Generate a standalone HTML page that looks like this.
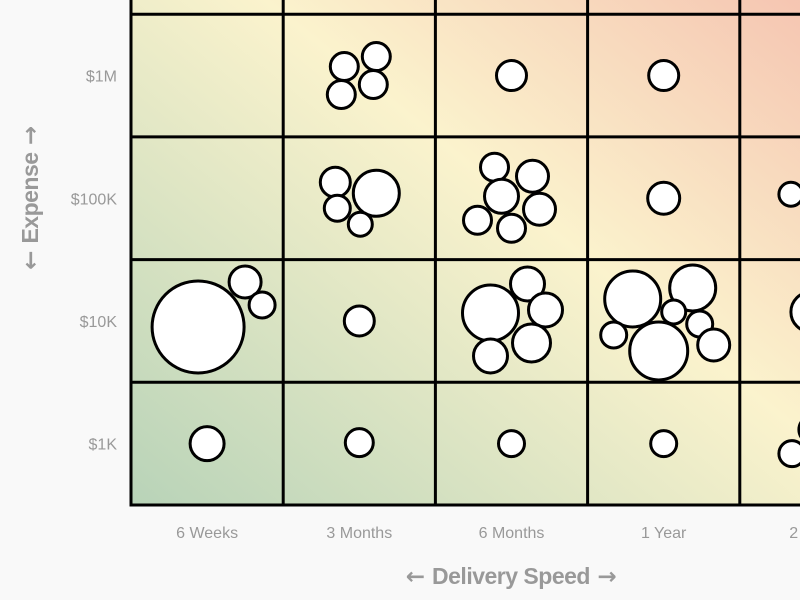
<!DOCTYPE html>
<html><head><meta charset="utf-8"><style>
html,body{margin:0;padding:0;background:#f9f9f9;}
svg{display:block;font-family:"Liberation Sans",sans-serif;}
.arr{font-family:"DejaVu Sans",sans-serif;font-weight:bold;}
</style></head><body>
<svg id="chart" width="800" height="600">
<defs>
<linearGradient id="bg" x1="0" y1="1" x2="1" y2="0">
<stop offset="0" stop-color="#b8d3b8"/>
<stop offset="0.5" stop-color="#fbf3cd"/>
<stop offset="1" stop-color="#f3b2a6"/>
</linearGradient>
</defs>
<g id="plot"></g>
</svg>
<script>
const xCategories = ["6 Weeks","3 Months","6 Months","1 Year","2 Years"];
const yCategories = ["$1K","$10K","$100K","$1M","$10M"];
// bubbles: column index, row index, offset within cell (px), radius
const bubbleCol = [1,1,1,1,2,3, 1,1,1,1,2,2,2,2,2,2,3,4, 0,0,0,1,2,2,2,2,2,3,3,3,3,3,3,3,4, 0,1,2,3,4,4];
const bubbleRow = [3,3,3,3,3,3, 2,2,2,2,2,2,2,2,2,2,2,2, 1,1,1,1,1,1,1,1,1,1,1,1,1,1,1,1,1, 0,0,0,0,0,0];
const bubbleDx = [-15,17,-18,14,0,0, -24,17,-22,1,-17,21,-10,28,-34,0,0,-25, -9,38,55,0,-21,16,34,20,-21,-31,29,10,-50,-5,36,50,-5, 0,0,0,0,-24,-3];
const bubbleDy = [-9,-19,19,9,0,0, -16,-5,10,26,-31,-22,-2,11,22,30,0,-4, 6,-39,-16,0,-8,-37,-11,22,35,-22,-33,-9,14,30,3,24,-9, 0,-1,0,0,10,-14];
const bubbleR = [14,14,14,14,15,15, 15,23,13,12,14,16,17,16,14,14,16,12, 46,16,13,15,28,17,17,19,17, 28,23,12,13,29,13,16,20, 17,14,13,13,13,14];

const left=131, bottom=505, colW=152.2, rowH=122.7;
const xScale = i => left + colW*i + colW/2;
const yScale = j => bottom - rowH*j - rowH/2;
const NS="http://www.w3.org/2000/svg";
const g=document.getElementById('plot');
function mk(t,a,p){const e=document.createElementNS(NS,t);for(const k in a)e.setAttribute(k,a[k]);(p||g).appendChild(e);return e;}

const bgRect=mk('rect',{x:left,y:bottom-rowH*yCategories.length,width:colW*xCategories.length,height:rowH*yCategories.length,fill:'url(#bg)'});



for(let i=0;i<=xCategories.length;i++){
  const x=left+colW*i;
  const l=mk('line',{x1:x,y1:bottom-rowH*yCategories.length,x2:x,y2:bottom+1.5,stroke:'#000','stroke-width':3});
  
  
}
for(let j=0;j<=yCategories.length;j++){
  const y=bottom-rowH*j;
  const l=mk('line',{x1:left-1.5,y1:y,x2:left+colW*xCategories.length,y2:y,stroke:'#000','stroke-width':3});
  
  
}
for(let k=0;k<bubbleR.length;k++){
  const c=mk('circle',{cx:xScale(bubbleCol[k])+bubbleDx[k],cy:yScale(bubbleRow[k])+bubbleDy[k],r:bubbleR[k],fill:'#fff',stroke:'#000','stroke-width':3});
  
  
}
xCategories.forEach((t,i)=>{
  const e=mk('text',{x:xScale(i),y:538,'text-anchor':'middle','font-size':16,fill:'#999'});
  e.textContent=t;
  
  
});
yCategories.forEach((t,j)=>{
  const e=mk('text',{x:117,y:yScale(j)+6,'text-anchor':'end','font-size':16,fill:'#999'});
  e.textContent=t;
  
  
});
function title(el,txt){
  const a=mk('tspan',{class:'arr'},el);a.textContent='← ';
  const b=mk('tspan',{},el);b.textContent=txt;
  const c=mk('tspan',{class:'arr'},el);c.textContent=' →';
}
const xt=mk('text',{x:511,y:584,'text-anchor':'middle','font-size':23,'font-weight':'bold',fill:'#999','letter-spacing':'-0.5'});
title(xt,'Delivery Speed');


const yt=mk('text',{x:0,y:0,'text-anchor':'middle','font-size':23,'font-weight':'bold',fill:'#999','letter-spacing':'-0.5',transform:'translate(38,198) rotate(-90)'});
title(yt,'Expense');


</script>
</body></html>
